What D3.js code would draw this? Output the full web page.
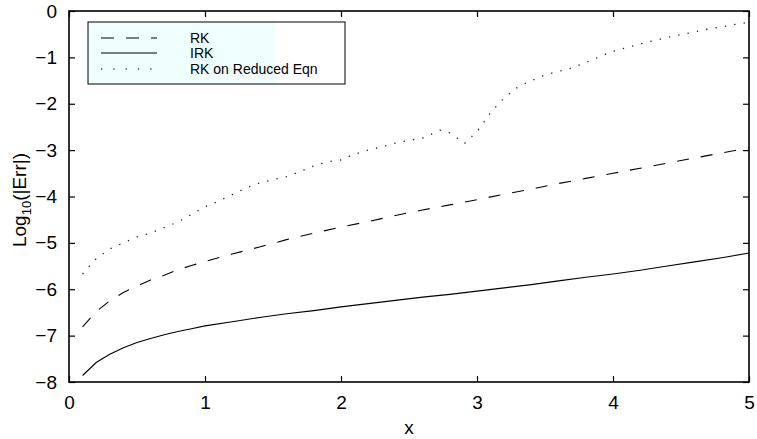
<!DOCTYPE html>
<html>
<head>
<meta charset="utf-8">
<script src="https://cdn.jsdelivr.net/npm/d3@7"></script>
<style>
  html, body { margin: 0; padding: 0; background: #fff; }
  svg { display: block; font-family: "Liberation Sans", Arial, Helvetica, sans-serif; }
</style>
</head>
<body>
<svg id="chart" width="757" height="439"></svg>
<script>
// ---- data ----
const xTicks = [0, 1, 2, 3, 4, 5];
const yTicks = [-8, -7, -6, -5, -4, -3, -2, -1, 0];

const rkX = [0.1,0.2,0.3,0.4,0.5,0.6,0.7,0.8,0.9,1.0,1.2,1.4,1.6,1.8,2.0,2.2,2.4,2.6,2.8,3.0,3.2,3.4,3.6,3.8,4.0,4.2,4.4,4.6,4.8,5.0];
const rkY = [-6.81,-6.48,-6.25,-6.07,-5.93,-5.80,-5.70,-5.58,-5.49,-5.40,-5.24,-5.09,-4.93,-4.79,-4.66,-4.54,-4.41,-4.29,-4.18,-4.07,-3.95,-3.84,-3.72,-3.61,-3.50,-3.39,-3.28,-3.17,-3.06,-2.95];

const irkX = [0.1,0.2,0.3,0.4,0.5,0.6,0.7,0.8,0.9,1.0,1.2,1.4,1.6,1.8,2.0,2.2,2.4,2.6,2.8,3.0,3.2,3.4,3.6,3.8,4.0,4.2,4.4,4.6,4.8,5.0];
const irkY = [-7.86,-7.58,-7.40,-7.26,-7.15,-7.06,-6.98,-6.91,-6.85,-6.79,-6.70,-6.61,-6.53,-6.46,-6.38,-6.31,-6.24,-6.17,-6.11,-6.04,-5.97,-5.90,-5.82,-5.74,-5.67,-5.59,-5.50,-5.41,-5.32,-5.22];

const redX = [0.1,0.2,0.3,0.4,0.5,0.6,0.7,0.8,0.9,1.0,1.1,1.2,1.3,1.4,1.5,1.6,1.7,1.8,1.9,2.0,2.1,2.2,2.3,2.4,2.5,2.6,2.73,2.8,2.91,3.0,3.05,3.1,3.2,3.3,3.4,3.5,3.6,3.7,3.8,3.9,4.0,4.1,4.2,4.3,4.4,4.5,4.6,4.7,4.8,4.9,5.0];
const redY = [-5.67,-5.34,-5.13,-5.00,-4.87,-4.79,-4.67,-4.55,-4.39,-4.22,-4.10,-3.96,-3.82,-3.71,-3.64,-3.57,-3.46,-3.34,-3.25,-3.21,-3.09,-3.00,-2.93,-2.85,-2.79,-2.74,-2.57,-2.63,-2.85,-2.60,-2.40,-2.19,-1.87,-1.64,-1.50,-1.38,-1.30,-1.23,-1.11,-0.99,-0.87,-0.79,-0.71,-0.64,-0.57,-0.51,-0.45,-0.39,-0.34,-0.29,-0.24];

const legendLabels = ["RK", "IRK", "RK on Reduced Eqn"];

// ---- layout ----
const L = 69, R = 749, T = 11, B = 382;
const svg = d3.select("#chart");
const x = d3.scaleLinear().domain([0, 5]).range([L, R]);
const y = d3.scaleLinear().domain([-8, 0]).range([B, T]);
const fmt = d => d3.format("")(d).replace("-", "\u2212");

// axes
const tickLen = 6;
const gx = svg.append("g").attr("transform", `translate(0,${B})`)
  .call(d3.axisBottom(x).tickValues(xTicks).tickSize(-tickLen).tickPadding(14).tickFormat(fmt));
const gxt = svg.append("g").attr("transform", `translate(0,${T})`)
  .call(d3.axisTop(x).tickValues(xTicks).tickSize(-tickLen).tickFormat(""));
const gy = svg.append("g").attr("transform", `translate(${L},0)`)
  .call(d3.axisLeft(y).tickValues(yTicks).tickSize(-tickLen).tickPadding(12).tickFormat(fmt));
const gyr = svg.append("g").attr("transform", `translate(${R},0)`)
  .call(d3.axisRight(y).tickValues(yTicks).tickSize(-tickLen).tickFormat(""));
[gx, gxt, gy, gyr].forEach(g => {
  g.select(".domain").remove();
  g.selectAll(".tick line").attr("stroke", "#000").attr("stroke-width", 1.2);
  g.selectAll("text").attr("fill", "#000").attr("font-size", 19)
    .attr("font-family", "'Liberation Sans', Arial, sans-serif");
});
gx.selectAll(".tick text").attr("dy", "0.71em");

// box
svg.append("rect").attr("x", L).attr("y", T).attr("width", R - L).attr("height", B - T)
  .attr("fill", "none").attr("stroke", "#000").attr("stroke-width", 1.6);

// lines
const line = d3.line().x(d => x(d[0])).y(d => y(d[1]));
svg.append("path").datum(d3.zip(rkX, rkY)).attr("d", line)
  .attr("fill", "none").attr("stroke", "#000").attr("stroke-width", 1.1)
  .attr("stroke-dasharray", "12,12");
svg.append("path").datum(d3.zip(irkX, irkY)).attr("d", line)
  .attr("fill", "none").attr("stroke", "#000").attr("stroke-width", 1.1);
svg.append("path").datum(d3.zip(redX, redY)).attr("d", line)
  .attr("fill", "none").attr("stroke", "#222").attr("stroke-width", 1.3)
  .attr("stroke-dasharray", "1.3,8.2");

// legend
const lg = svg.append("g");
lg.append("rect").attr("x", 88).attr("y", 22).attr("width", 257).attr("height", 62)
  .attr("fill", "#fff");
lg.append("rect").attr("x", 88).attr("y", 22).attr("width", 187).attr("height", 62)
  .attr("fill", "#effffe");
lg.append("rect").attr("x", 88).attr("y", 22).attr("width", 257).attr("height", 62)
  .attr("fill", "none").attr("stroke", "#000").attr("stroke-width", 1);
const dashes = ["13,12", null, "1.3,11"];
const rowY = [38, 53, 69];
legendLabels.forEach((lab, i) => {
  const ln = lg.append("line").attr("x1", 101).attr("x2", 157)
    .attr("y1", rowY[i]).attr("y2", rowY[i])
    .attr("stroke", i === 2 ? "#444" : "#000").attr("stroke-width", i === 2 ? 1.3 : 1.1);
  if (dashes[i]) ln.attr("stroke-dasharray", dashes[i]);
  lg.append("text").attr("x", 190).attr("y", rowY[i] + 5).attr("font-size", 14)
    .attr("fill", "#000").text(lab);
});

// axis labels
svg.append("text").attr("x", (L + R) / 2).attr("y", 434).attr("text-anchor", "middle")
  .attr("font-size", 19).attr("fill", "#000").text("x");
const yl = svg.append("text").attr("transform", "translate(26,200) rotate(-90)")
  .attr("text-anchor", "middle").attr("font-size", 19).attr("fill", "#000");
yl.append("tspan").text("Log");
yl.append("tspan").attr("font-size", 13).attr("dy", 5).text("10");
yl.append("tspan").attr("dy", -5).text("(|Err|)");
</script>
</body>
</html>
